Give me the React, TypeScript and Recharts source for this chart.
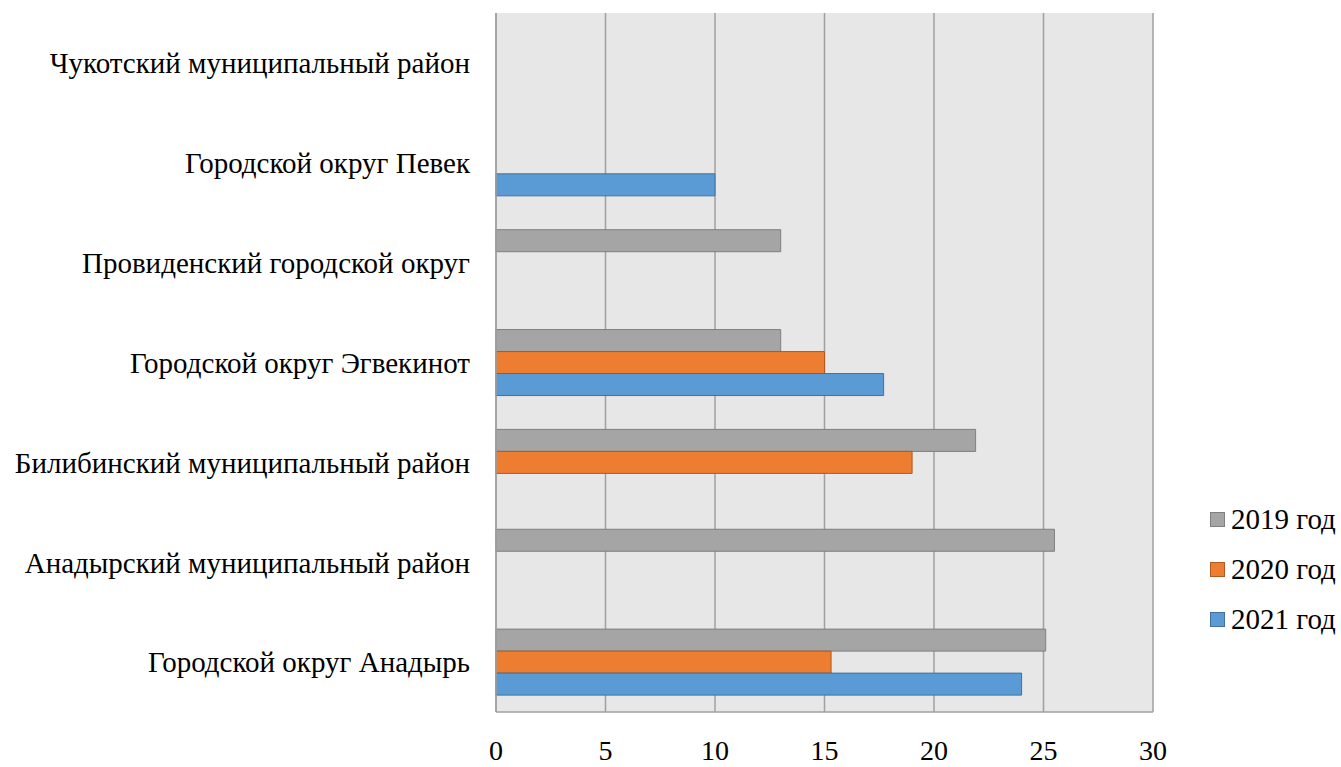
import React from 'react';
import { BarChart, Bar, XAxis, YAxis, CartesianGrid } from 'recharts';

const districts = [
  'Чукотский муниципальный район',
  'Городской округ Певек',
  'Провиденский городской округ',
  'Городской округ Эгвекинот',
  'Билибинский муниципальный район',
  'Анадырский муниципальный район',
  'Городской округ Анадырь',
];

const values2019 = [null, null, 13.0, 13.0, 21.9, 25.5, 25.1];
const values2020 = [null, null, null, 15.0, 19.0, null, 15.3];
const values2021 = [null, 10.0, null, 17.7, null, null, 24.0];

const xTicks = [0, 5, 10, 15, 20, 25, 30];

const series = [
  { key: 'y2019', name: '2019 год', fill: '#a5a5a5', stroke: '#7f7f7f' },
  { key: 'y2020', name: '2020 год', fill: '#ed7d31', stroke: '#ae5a21' },
  { key: 'y2021', name: '2021 год', fill: '#5b9bd5', stroke: '#41719c' },
];

const data = districts.map((name, i) => ({
  name,
  y2019: values2019[i],
  y2020: values2020[i],
  y2021: values2021[i],
}));

const FONT = 'Liberation Serif, Times New Roman, serif';

function LegendBox() {
  return (
    <div
      style={{
        position: 'absolute',
        left: 1210,
        top: 494,
        fontFamily: FONT,
        fontSize: 29,
        color: '#000',
        whiteSpace: 'nowrap',
      }}
    >
      {series.map((s) => (
        <div key={s.key} style={{ display: 'flex', alignItems: 'center', height: 50 }}>
          <span
            style={{
              display: 'inline-block',
              width: 13,
              height: 13,
              background: s.fill,
              border: `1px solid ${s.stroke}`,
              marginRight: 6,
            }}
          />
          <span>{s.name}</span>
        </div>
      ))}
    </div>
  );
}

export default function App() {
  return (
    <div
      style={{
        position: 'absolute',
        left: 0,
        top: 0,
        width: 1341,
        height: 767,
        background: '#fff',
        fontFamily: FONT,
      }}
    >
      <BarChart
        width={1341}
        height={767}
        data={data}
        layout="vertical"
        margin={{ top: 13, right: 188, bottom: 0, left: 0 }}
        barGap={0}
        barCategoryGap="17%"
      >
        <CartesianGrid horizontal={false} fill="#e7e7e7" stroke="#a0a0a0" strokeWidth={1.5} />
        <XAxis
          type="number"
          domain={[0, 30]}
          ticks={xTicks}
          height={55}
          tickLine={false}
          tickSize={0}
          tickMargin={28}
          axisLine={{ stroke: '#a0a0a0', strokeWidth: 1.5 }}
          tick={{ fill: '#000', fontSize: 28, fontFamily: FONT }}
        />
        <YAxis
          type="category"
          dataKey="name"
          width={496}
          tickLine={false}
          tickSize={0}
          tickMargin={26}
          axisLine={{ stroke: '#a0a0a0', strokeWidth: 1.5 }}
          tick={{ fill: '#000', fontSize: 29, fontFamily: FONT }}
          interval={0}
        />
        {series.map((s) => (
          <Bar
            key={s.key}
            dataKey={s.key}
            name={s.name}
            fill={s.fill}
            stroke={s.stroke}
            strokeWidth={1}
            isAnimationActive={false}
          />
        ))}
      </BarChart>
      <LegendBox />
    </div>
  );
}
